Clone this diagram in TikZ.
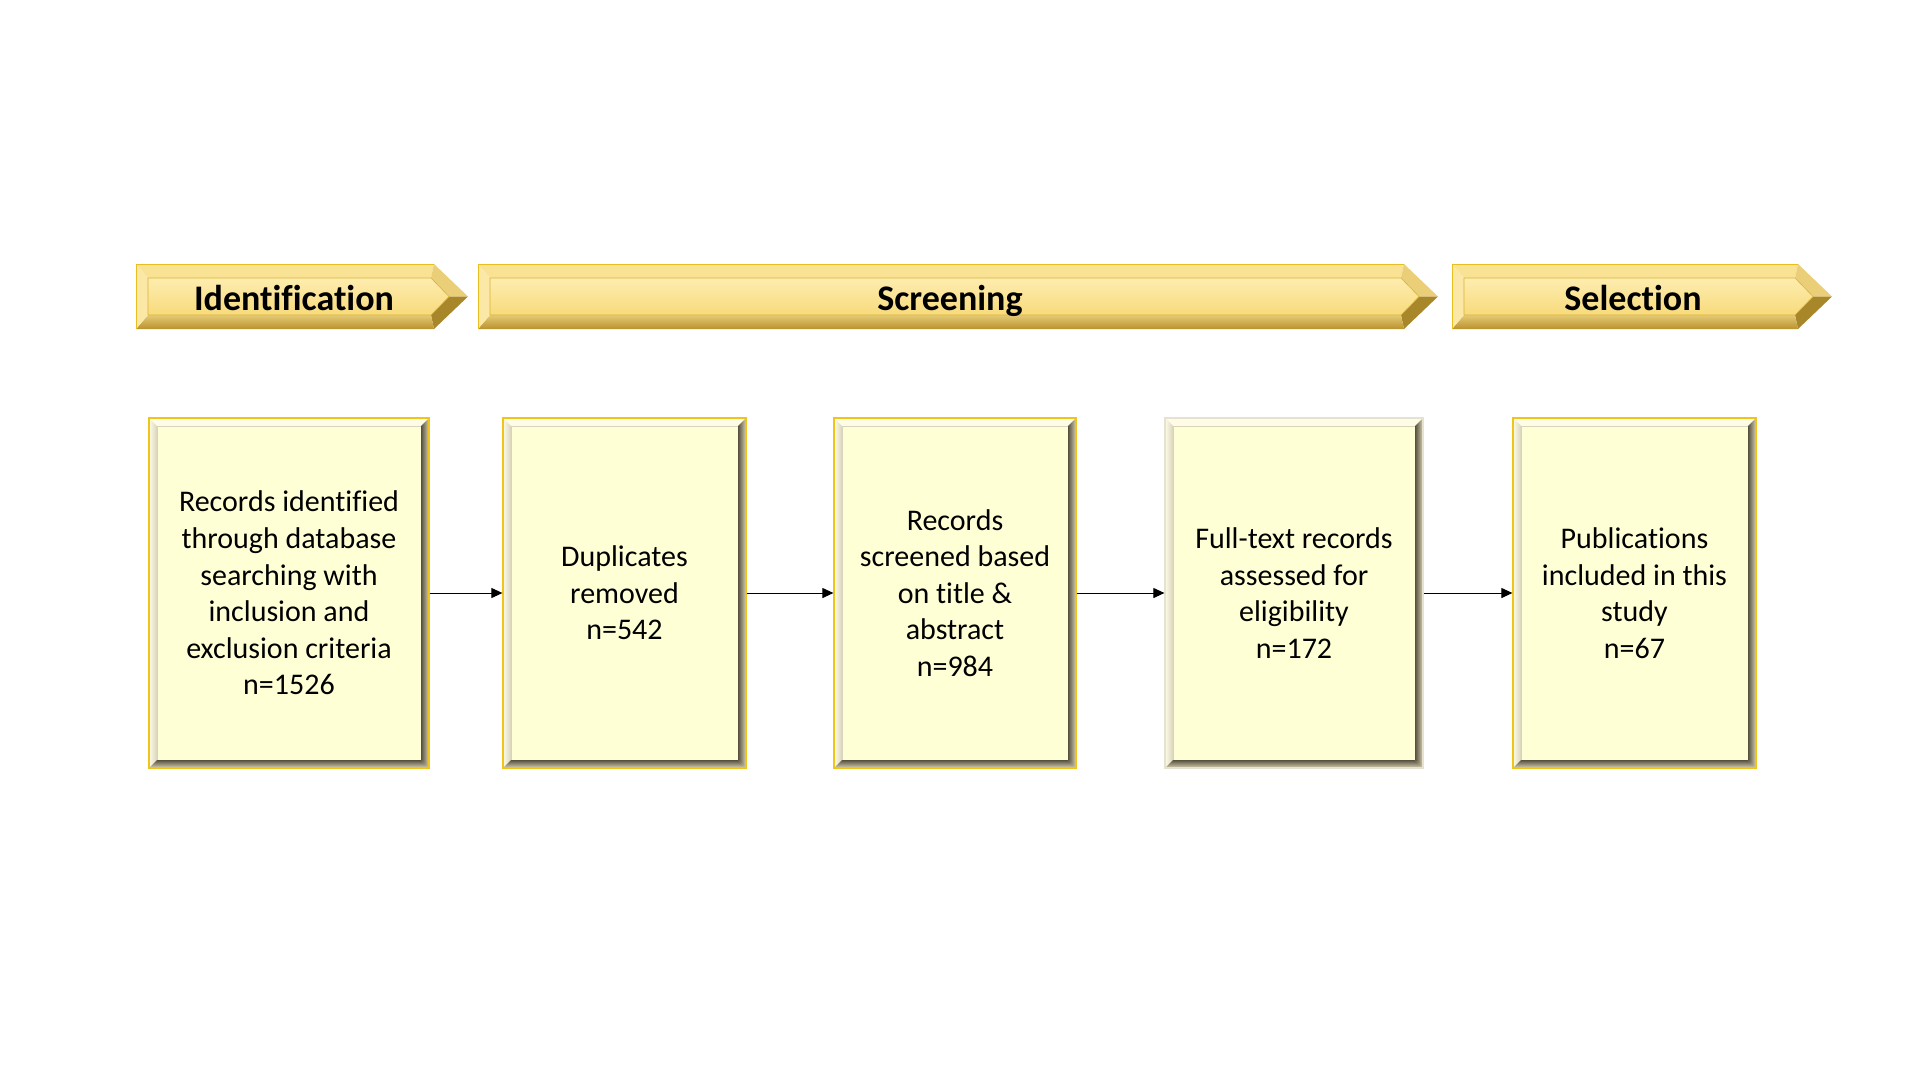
\documentclass[tikz,border=0pt]{standalone}
\usepackage{fontspec}
\setmainfont{Carlito}[Ligatures=NoCommon]
\usetikzlibrary{calc,arrows.meta}
\definecolor{boxfill}{HTML}{FFFFD6}
\definecolor{boxgold}{HTML}{F0C419}
\definecolor{boxpale}{HTML}{E6E2D0}
\definecolor{bevlight}{HTML}{FFFCE6}
\definecolor{bevlightin}{HTML}{D8D4BC}
\definecolor{bevdark}{HTML}{555040}
\definecolor{bevdarkout}{HTML}{D8D0B0}
\definecolor{gtop}{HTML}{F9E293}
\definecolor{gleft}{HTML}{FBE8A6}
\definecolor{gbot}{HTML}{B8922E}
\definecolor{gtipup}{HTML}{EACF78}
\definecolor{gtipdn}{HTML}{A8862A}
\definecolor{ginnertop}{HTML}{FEEDB0}
\definecolor{ginnerbot}{HTML}{F8DA7C}
\definecolor{gline}{HTML}{D9B238}
\definecolor{gedge}{HTML}{E8BE20}
\tikzset{
  stepbox/.style={rectangle, draw=boxgold, line width=1.2pt, fill=boxfill,
    minimum height=350pt, align=center, inner sep=0pt,
    font=\fontsize{30}{36.6}\selectfont,
    path picture={
      \fill[bevlight] let \p1=(path picture bounding box.north west), \p2=(path picture bounding box.south east) in
        (\x1,\y1) -- (\x2,\y1) -- (\x2-8pt,\y1-8pt) -- (\x1+8pt,\y1-8pt) -- cycle;
      \shade[left color=bevlight, right color=bevlightin] let \p1=(path picture bounding box.north west), \p2=(path picture bounding box.south east) in
        (\x1,\y1) -- (\x1+8pt,\y1-8pt) -- (\x1+8pt,\y2+8pt) -- (\x1,\y2) -- cycle;
      \shade[left color=bevdark, right color=bevdarkout] let \p1=(path picture bounding box.north west), \p2=(path picture bounding box.south east) in
        (\x2,\y1) -- (\x2,\y2) -- (\x2-8pt,\y2+8pt) -- (\x2-8pt,\y1-8pt) -- cycle;
      \shade[top color=bevdark, bottom color=bevdarkout] let \p1=(path picture bounding box.north west), \p2=(path picture bounding box.south east) in
        (\x1,\y2) -- (\x2,\y2) -- (\x2-8pt,\y2+8pt) -- (\x1+8pt,\y2+8pt) -- cycle;
      \draw[bevlightin, line width=0.6pt] let \p1=(path picture bounding box.north west), \p2=(path picture bounding box.south east) in
        (\x1+8pt,\y2+8pt) -- (\x1+8pt,\y1-8pt) -- (\x2-8pt,\y1-8pt);
    }},
  conn/.style={draw=black, line width=1pt, -{Triangle[length=11pt,width=10pt]}},
  bantext/.style={font=\fontsize{36}{40}\selectfont\bfseries, inner sep=0pt, anchor=base}
}
% #1 left x, #2 shaft end x
\newcommand\chevbanner[2]{%
  \fill[gtop] (#1,264) -- (#2,264) -- ({#2-3},278) -- ({#1+12},278) -- cycle;
  \fill[gtipup] (#2,264) -- ({#2+34},296.5) -- ({#2+15},296.5) -- ({#2-3},278) -- cycle;
  \fill[gtipdn] ({#2+34},296.5) -- (#2,329) -- ({#2-3},315) -- ({#2+15},296.5) -- cycle;
  \shade[top color=gtop!70!gbot, bottom color=gbot] (#2,329) -- (#1,329) -- ({#1+12},315) -- ({#2-3},315) -- cycle;
  \fill[gleft] (#1,329) -- (#1,264) -- ({#1+12},278) -- ({#1+12},315) -- cycle;
  \shade[top color=ginnertop, bottom color=ginnerbot, draw=gline, line width=0.6pt]
    ({#1+12},278) -- ({#2-3},278) -- ({#2+15},296.5) -- ({#2-3},315) -- ({#1+12},315) -- cycle;
  \draw[gedge, line width=0.8pt] (#1,329) -- (#1,264) -- (#2,264);
}
\begin{document}
\begin{tikzpicture}[x=1pt,y=-1pt]
\path[use as bounding box, fill=white] (0,0) rectangle (1920,1080);

\chevbanner{136}{434}
\chevbanner{478}{1404}
\chevbanner{1452}{1798}
\node[bantext] (tid) at (294,310) {Identification};
\node[bantext] (tsc) at (950,310) {Screening};
\node[bantext] (tse) at (1633,310) {Selection};

\node[stepbox, minimum width=280pt] (b1) at (289,593)
  {Records identified\\through database\\searching with\\inclusion and\\exclusion criteria\\n=1526};
\node[stepbox, minimum width=243pt] (b2) at (624.5,593)
  {Duplicates\\removed\\n=542};
\node[stepbox, minimum width=242pt] (b3) at (955,593)
  {Records\\screened based\\on title \&\\abstract\\n=984};
\node[stepbox, minimum width=258pt, draw=boxpale] (b4) at (1294,593)
  {Full-text records\\assessed for\\eligibility\\n=172};
\node[stepbox, minimum width=243pt] (b5) at (1634.5,593)
  {Publications\\included in this\\study\\n=67};

\draw[conn] (b1.east) -- (b2.west);
\draw[conn] (b2.east) -- (b3.west);
\draw[conn] (b3.east) -- (b4.west);
\draw[conn] (b4.east) -- (b5.west);
\end{tikzpicture}
\end{document}
